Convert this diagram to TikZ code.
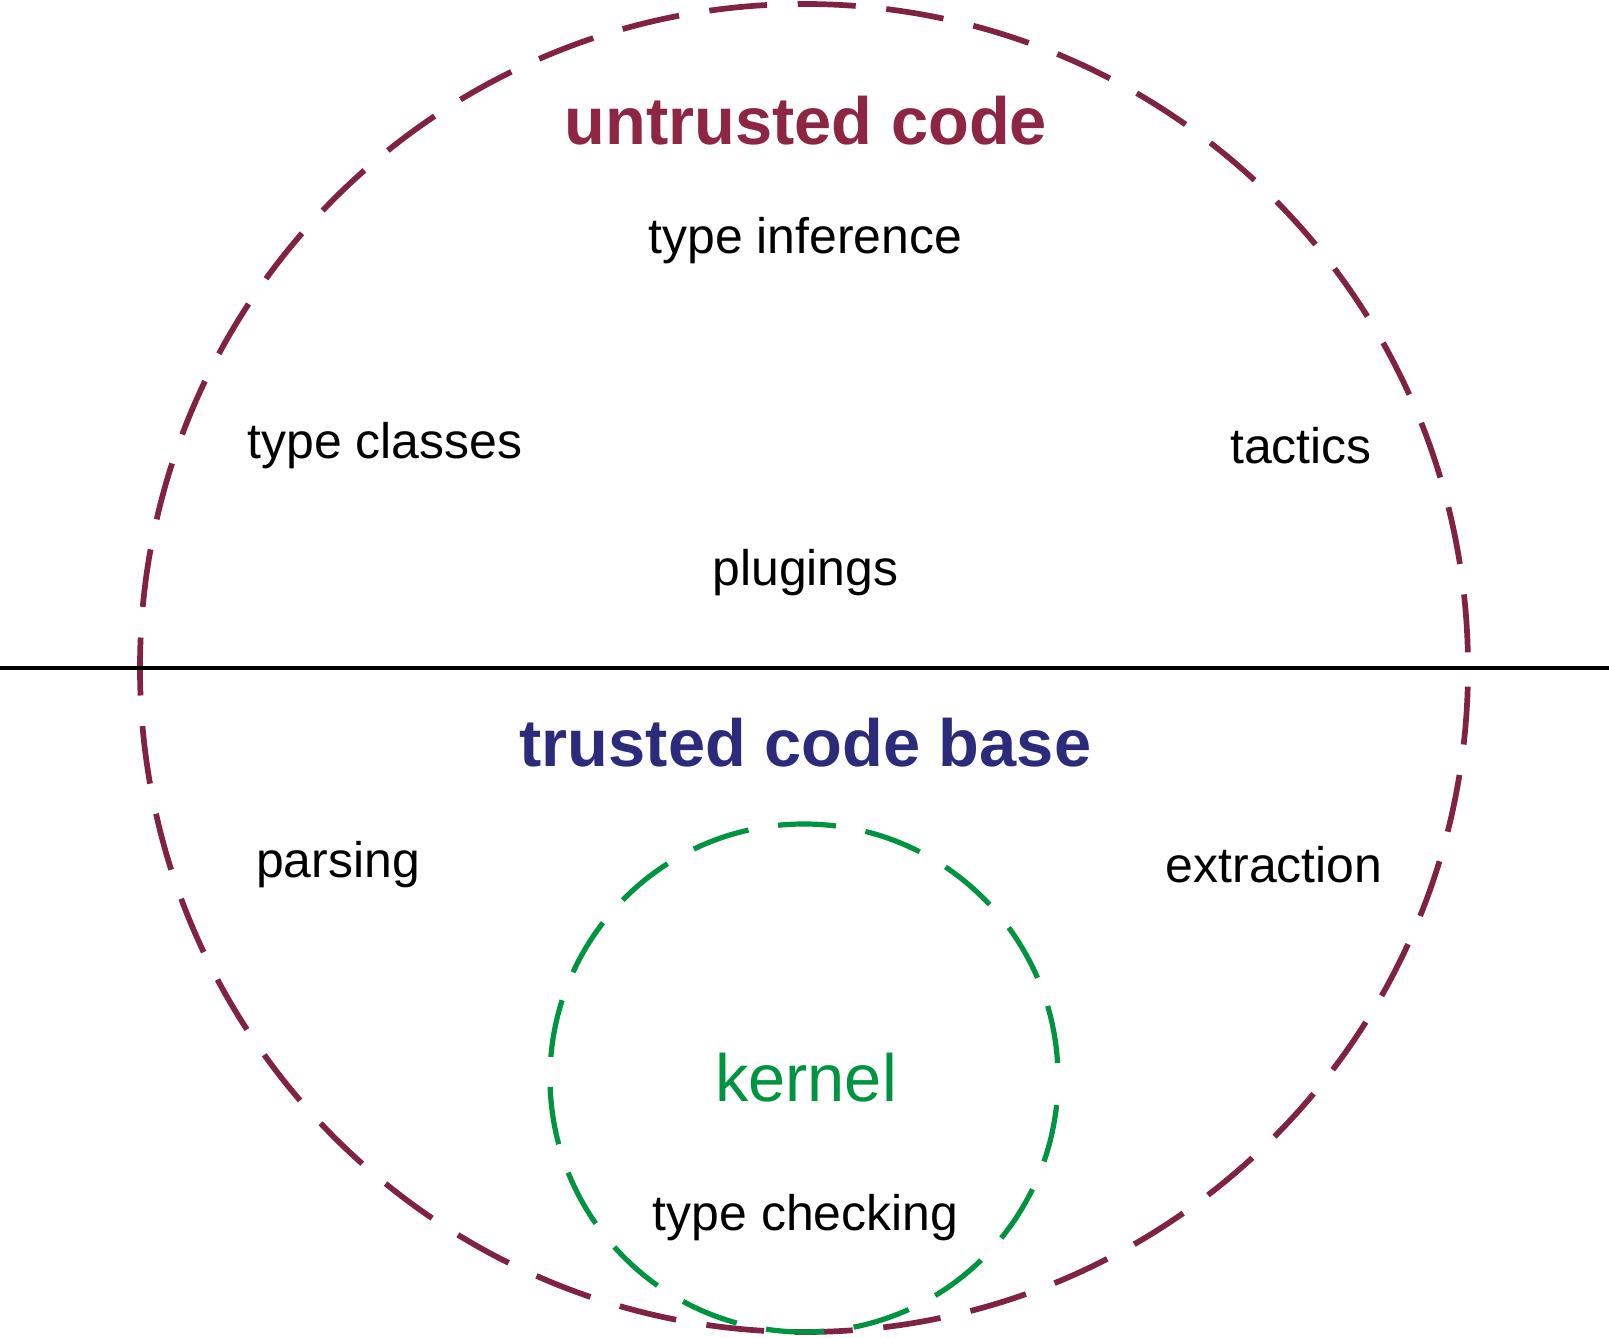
\documentclass[tikz,border=0pt]{standalone}
\usepackage{fontspec}
\setmainfont{Liberation Sans}
\usetikzlibrary{positioning}

\definecolor{granate}{RGB}{128,34,68}
\definecolor{granatetexto}{RGB}{141,38,66}
\definecolor{marino}{RGB}{44,42,122}
\definecolor{verde}{RGB}{0,148,64}

\begin{document}
\begin{tikzpicture}
          % Definición de estilos para las zonas y los textos
          \tikzstyle{zona} = [draw=granate, circle, line width=0.057cm, dash pattern=on 0.58cm off 0.307cm, dash phase=0.73cm, inner sep=0pt, outer sep=0pt, minimum size=13.28cm]
          \tikzstyle{nucleo} = [draw=verde, circle, line width=0.052cm, dash pattern=on 0.58cm off 0.30cm, dash phase=0.73cm, inner sep=0pt, outer sep=0pt, minimum size=5.08cm]
          \tikzstyle{titulo} = [font=\fontsize{19}{23}\selectfont\bfseries, anchor=base, inner sep=0pt]
          \tikzstyle{etiqueta} = [font=\fontsize{14.2}{17}\selectfont, anchor=base, inner sep=0pt]

          \useasboundingbox (-8.04,-6.69) rectangle (8.05,6.68);

          % Zonas
          \node [zona] at (0,0) (exterior) {};
          \node [nucleo, above=0pt of exterior.south] (kernelzona) {};
          \node [coordinate, left=1.4cm of exterior.west] (izq) {}; % Extremo izquierdo de la frontera
          \node [coordinate, right=1.41cm of exterior.east] (der) {}; % Extremo derecho de la frontera

          % Textos
          \node [titulo, text=granatetexto] at (0.02,5.23) (untrusted) {untrusted code};
          \node [etiqueta] at (0.015,4.14) (inference) {type inference};
          \node [etiqueta] at (-4.19,2.09) (classes) {type classes};
          \node [etiqueta] at (4.97,2.04) (tactics) {tactics};
          \node [etiqueta] at (0.015,0.82) (plugings) {plugings};
          \node [titulo, text=marino] at (0.015,-0.99) (trusted) {trusted code base};
          \node [etiqueta] at (-4.66,-2.09) (parsing) {parsing};
          \node [etiqueta] at (4.70,-2.14) (extraction) {extraction};
          \node [etiqueta, font=\fontsize{19}{23}\selectfont, text=verde] at (0.02,-4.33) (kernel) {kernel};
          \node [etiqueta] at (0.015,-5.62) (checking) {type checking};

          % Frontera entre código no confiable y confiable
          \draw [line width=0.042cm] (izq) -- (der);
        \end{tikzpicture}
\end{document}
